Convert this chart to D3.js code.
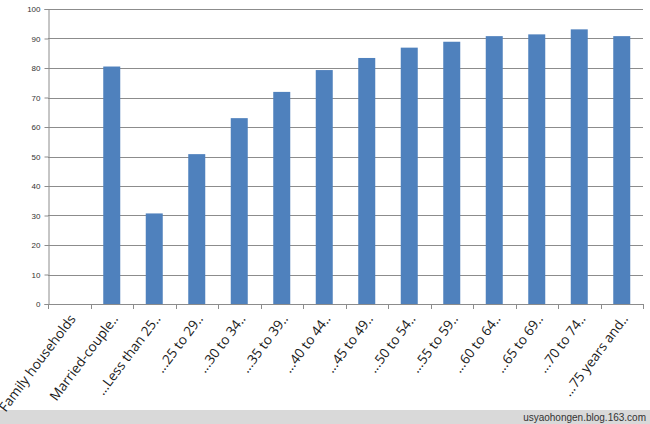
<!DOCTYPE html>
<html>
<head>
<meta charset="utf-8">
<script src="https://cdn.jsdelivr.net/npm/d3@7"></script>
<style>
  body { margin: 0; background: #fff; }
  svg { display: block; }
</style>
</head>
<body>
<div id="chart"></div>
<script>
// data
const categories = ["Family households", "Married-couple..", "...Less than 25..", "...25 to 29..",
  "...30 to 34..", "...35 to 39..", "...40 to 44..", "...45 to 49..", "...50 to 54..",
  "...55 to 59..", "...60 to 64..", "...65 to 69..", "...70 to 74..", "...75 years and.."]
const values = [null, 80.5, 30.7, 50.8, 63.0, 71.9, 79.3, 83.4, 86.9, 88.9, 90.8, 91.4, 93.1, 90.8]
const yTicks = [0, 10, 20, 30, 40, 50, 60, 70, 80, 90, 100]
const watermark = "usyaohongen.blog.163.com"

const width = 650
const height = 424
const margin = {top: 9, right: 7, bottom: 120, left: 48}

const svg = d3.select("#chart").append("svg")
    .attr("width", width)
    .attr("height", height)

const x = d3.scaleBand()
    .domain(categories)
    .range([margin.left, width - margin.right])
    .paddingInner(0.6)
    .paddingOuter(0.3)

const y = d3.scaleLinear()
    .domain([0, 100])
    .range([height - margin.bottom, margin.top])

// gridlines
svg.append("g")
    .selectAll("line")
    .data(yTicks.filter(d => d > 0))
    .join("line")
      .attr("x1", margin.left)
      .attr("x2", width - margin.right)
      .attr("y1", d => Math.round(y(d)) + 0.5)
      .attr("y2", d => Math.round(y(d)) + 0.5)
      .attr("stroke", "#8c8c8c")
      .attr("stroke-width", 1)

// bars
svg.append("g")
    .attr("fill", "#4f81bd")
    .selectAll("rect")
    .data(categories.map((c, i) => ({c, v: values[i]})).filter(d => d.v != null))
    .join("rect")
      .attr("x", d => x(d.c))
      .attr("width", x.bandwidth())
      .attr("y", d => y(d.v))
      .attr("height", d => y(0) - y(d.v))

// y axis
const yAxis = svg.append("g")
    .attr("transform", `translate(${margin.left + 0.5},0)`)
    .call(d3.axisLeft(y).tickValues(yTicks).tickSize(4).tickPadding(4))
yAxis.select(".domain").attr("stroke", "#8c8c8c")
yAxis.selectAll(".tick line").attr("stroke", "#8c8c8c")
yAxis.selectAll("text")
    .attr("font-family", "Liberation Sans Narrow, Liberation Sans, sans-serif")
    .attr("font-size", 8)
    .attr("fill", "#333")

// bottom strip with watermark (labels are drawn over it)
svg.append("rect")
    .attr("x", 0)
    .attr("y", 410)
    .attr("width", width)
    .attr("height", height - 410)
    .attr("fill", "#d9d9d9")
svg.append("text")
    .attr("x", width - 4)
    .attr("y", 421)
    .attr("text-anchor", "end")
    .attr("font-family", "Liberation Sans, sans-serif")
    .attr("font-size", 10)
    .attr("fill", "#333")
    .text(watermark)

// x axis: ticks sit on band boundaries
const boundaries = d3.range(categories.length + 1).map(i => margin.left + i * (width - margin.left - margin.right) / categories.length)
svg.append("line")
    .attr("x1", margin.left)
    .attr("x2", width - margin.right)
    .attr("y1", Math.round(y(0)) + 0.5)
    .attr("y2", Math.round(y(0)) + 0.5)
    .attr("stroke", "#8c8c8c")
svg.append("g")
    .selectAll("line")
    .data(boundaries)
    .join("line")
      .attr("x1", d => Math.round(d) + 0.5)
      .attr("x2", d => Math.round(d) + 0.5)
      .attr("y1", y(0))
      .attr("y2", y(0) + 5)
      .attr("stroke", "#8c8c8c")

svg.append("g")
    .selectAll("text")
    .data(categories)
    .join("text")
      .attr("transform", d => `translate(${x(d) + x.bandwidth() / 2 + 7},${y(0) + 15}) rotate(-53)`)
      .attr("text-anchor", "end")
      .attr("font-family", "Open Sans, sans-serif")
      .attr("font-size", 13.5)
      .attr("fill", "#1a1a1a")
      .text(d => d)
</script>
</body>
</html>
